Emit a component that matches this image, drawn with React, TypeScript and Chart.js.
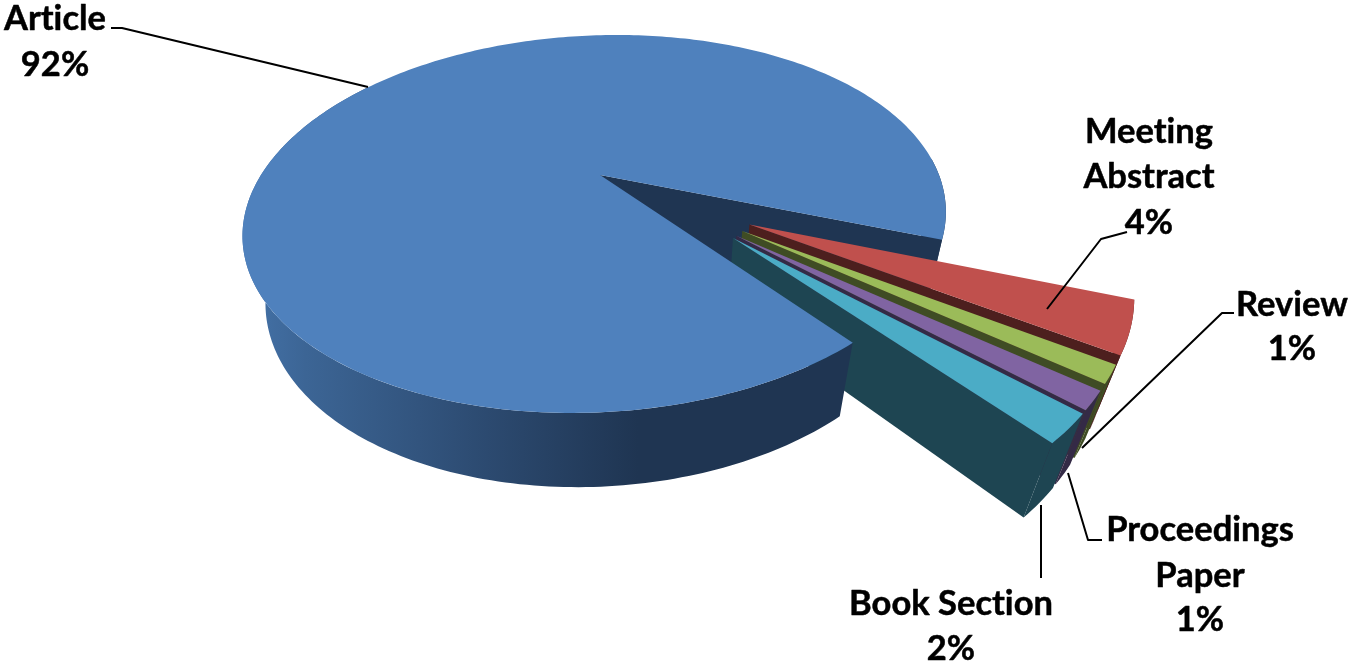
import React, { useEffect, useRef } from "react";
import { Chart, registerables } from "chart.js";

Chart.register(...registerables);

const categories = ["Article", "Meeting Abstract", "Review", "Proceedings Paper", "Book Section"];
const shares = [91.6, 3.78, 1.28, 1.3, 2.03];
const topColors = ["#4F81BD", "#C0504D", "#9BBB59", "#8064A2", "#4BACC6"];
const wallColors = ["#1F3552", "#4D1F1E", "#3F4C24", "#342A46", "#1E4552"];
const explode = [0, 133, 133, 133, 133];
const pullDegrees = [0, 31.5, 35.9, 39.1, 40.8];

// View of the pie plane (camera set-up, not data)
const VIEW = { cx: 600, cy: 175, a: 339, b: 176.3, skew: -21, persp: -0.259, vx: 650, vy: 1487, depth: 0.055 };
const FONT = 'bold 34.5px Lato, "Noto Sans", sans-serif';

type Pt = [number, number];
const project = (u: number, v: number, bottom = false): Pt => {
  const d = 1 + VIEW.persp * v;
  const x = VIEW.cx + (VIEW.a * u + VIEW.skew * v) / d;
  const y = VIEW.cy + (VIEW.b * v) / d;
  if (!bottom) return [x, y];
  const s = d / (d + VIEW.depth);
  return [VIEW.vx + s * (x - VIEW.vx), VIEW.vy + s * (y - VIEW.vy)];
};

const poly = (ctx: CanvasRenderingContext2D, pts: Pt[], fill: string | CanvasGradient) => {
  ctx.beginPath();
  pts.forEach((p, i) => (i ? ctx.lineTo(p[0], p[1]) : ctx.moveTo(p[0], p[1])));
  ctx.closePath();
  ctx.fillStyle = fill;
  ctx.fill();
};

type Slice = { o: [number, number]; start: number; end: number; top: string; wall: string };

const arcPts = (s: Slice, a0: number, a1: number, bottom = false): Pt[] => {
  const n = Math.max(2, Math.ceil(Math.abs(a1 - a0) / (Math.PI / 180)));
  const pts: Pt[] = [];
  for (let i = 0; i <= n; i++) {
    const t = a0 + ((a1 - a0) * i) / n;
    pts.push(project(s.o[0] + Math.cos(t), s.o[1] + Math.sin(t), bottom));
  }
  return pts;
};
const rim = (s: Slice, a0: number, a1: number, fill: string | CanvasGradient, ctx: CanvasRenderingContext2D) =>
  poly(ctx, [...arcPts(s, a0, a1), ...arcPts(s, a0, a1, true).reverse()], fill);
const radial = (s: Slice, a: number, ctx: CanvasRenderingContext2D) => {
  const c = project(s.o[0], s.o[1]);
  const cb = project(s.o[0], s.o[1], true);
  const e = project(s.o[0] + Math.cos(a), s.o[1] + Math.sin(a));
  const eb = project(s.o[0] + Math.cos(a), s.o[1] + Math.sin(a), true);
  poly(ctx, [c, e, eb, cb], s.wall);
};
const topFace = (s: Slice, ctx: CanvasRenderingContext2D) =>
  poly(ctx, [project(s.o[0], s.o[1]), ...arcPts(s, s.start, s.end)], s.top);

const pie3d = {
  id: "pie3d",
  beforeDatasetsDraw(chart: any) {
    const ctx: CanvasRenderingContext2D = chart.ctx;
    const meta = chart.getDatasetMeta(0);
    const deg = Math.PI / 180;
    const slices: Slice[] = meta.data.map((el: any, i: number) => {
      const r = el.options.offset / el.outerRadius;
      const dir = pullDegrees[i] * deg;
      return {
        o: [r * Math.cos(dir), r * Math.sin(dir)],
        start: el.startAngle,
        end: el.endAngle,
        top: el.options.backgroundColor,
        wall: wallColors[i],
      } as Slice;
    });
    const main = slices[0];
    // far part of the big slice: its cut face and the short stretch of rim beside it
    rim(main, main.end - 25 * deg, main.end, main.wall, ctx);
    radial(main, main.end, ctx);
    // the exploded slices, far to near
    slices.slice(1).forEach((s) => {
      rim(s, s.start, s.end, s.wall, ctx);
      radial(s, s.end, ctx);
      topFace(s, ctx);
    });
    // near part of the big slice, which sits in front of them
    const g = ctx.createLinearGradient(245, 0, 850, 0);
    g.addColorStop(0, "#4472A8");
    g.addColorStop(0.1, "#3C6595");
    g.addColorStop(0.4, "#2C4A70");
    g.addColorStop(0.65, "#1F3552");
    g.addColorStop(1, "#1F3552");
    rim(main, main.start, main.start + 165 * deg, g, ctx);
    topFace(main, ctx);
    return false;
  },
  afterDraw(chart: any) {
    const ctx: CanvasRenderingContext2D = chart.ctx;
    ctx.save();
    ctx.strokeStyle = "#000";
    ctx.lineWidth = 2;
    ctx.lineJoin = "round";
    LEADERS.forEach((pts) => {
      ctx.beginPath();
      pts.forEach((p, i) => (i ? ctx.lineTo(p[0], p[1]) : ctx.moveTo(p[0], p[1])));
      ctx.stroke();
    });
    ctx.fillStyle = "#000";
    ctx.lineWidth = 0.5;
    ctx.font = FONT;
    (ctx as any).letterSpacing = "0.01px";
    ctx.textAlign = "center";
    ctx.textBaseline = "alphabetic";
    LABELS.forEach((l) => {
      const words = l.wrap ? categories[l.i].split(" ") : [categories[l.i]];
      const lines = [...words, `${Math.round(shares[l.i])}%`];
      lines.forEach((t, k) => {
        ctx.fillText(t, l.x, l.baselines[k]);
        ctx.strokeText(t, l.x, l.baselines[k]);
      });
    });
    ctx.restore();
  },
};

const LABELS = [
  { i: 0, x: 55, wrap: false, baselines: [30, 76] },
  { i: 1, x: 1149, wrap: true, baselines: [143, 188, 234] },
  { i: 2, x: 1292, wrap: false, baselines: [316, 360] },
  { i: 3, x: 1200, wrap: true, baselines: [541, 587, 631] },
  { i: 4, x: 951, wrap: false, baselines: [615, 660] },
];
const LEADERS: Pt[][] = [
  [[111, 28], [122, 28], [368, 87]],
  [[1047, 309], [1101, 239], [1127, 232]],
  [[1082, 448], [1222, 313], [1234, 313]],
  [[1068, 473], [1088, 540], [1102, 540]],
  [[1041, 505], [1041, 578]],
];

export default function App() {
  const ref = useRef<HTMLCanvasElement>(null);
  useEffect(() => {
    document.body.style.margin = "0";
    const chart = new Chart(ref.current!, {
      type: "pie",
      data: {
        labels: categories,
        datasets: [{ data: shares, backgroundColor: topColors, offset: explode, borderWidth: 0 }],
      },
      options: {
        responsive: false,
        animation: false,
        rotation: 139.8,
        layout: { padding: 0 },
        plugins: { legend: { display: false }, tooltip: { enabled: false } },
      },
      plugins: [pie3d],
    } as any);
    return () => chart.destroy();
  }, []);
  return <canvas ref={ref} width={1352} height={664} style={{ display: "block" }} />;
}
